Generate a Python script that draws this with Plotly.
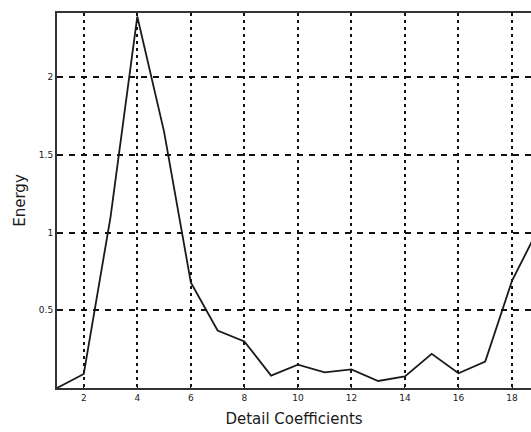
import plotly.graph_objects as go

coeff_index = list(range(1, 20))
energy = [0.0, 0.09, 1.1, 2.39, 1.65, 0.68, 0.37, 0.30, 0.08, 0.15, 0.10, 0.12,
          0.045, 0.075, 0.22, 0.095, 0.17, 0.69, 1.03]
x_ticks = [2, 4, 6, 8, 10, 12, 14, 16, 18]
y_ticks = [0.5, 1, 1.5, 2]
y_tick_text = ["0.5", "1", "1.5", "2"]

fig = go.Figure()
fig.add_trace(go.Scatter(x=coeff_index, y=energy, mode="lines",
                         line=dict(color="#1a1a1a", width=1.8),
                         showlegend=False))

fig.update_layout(
    width=531, height=432,
    margin=dict(l=57, r=0, t=13, b=44),
    paper_bgcolor="white", plot_bgcolor="white",
    font=dict(family="DejaVu Sans", color="#1a1a1a"),
    xaxis=dict(range=[1, 18.71], tickvals=x_ticks, ticks="inside", ticklen=4,
               tickcolor="#1a1a1a", tickfont=dict(size=9),
               showgrid=True, gridcolor="#111", gridwidth=2, griddash="3px,4px",
               showline=True, linecolor="#333", linewidth=2, mirror=True,
               zeroline=False,
               title=dict(text="Detail Coefficients", font=dict(size=15), standoff=12)),
    yaxis=dict(range=[0, 2.413], tickvals=y_ticks, ticktext=y_tick_text,
               ticks="inside", ticklen=4, tickcolor="#1a1a1a", tickfont=dict(size=9),
               showgrid=True, gridcolor="#111", gridwidth=2, griddash="6px,6px",
               showline=True, linecolor="#333", linewidth=2, mirror=False,
               zeroline=False,
               title=dict(text="Energy", font=dict(size=15), standoff=10)),
)

fig.write_html("out.html")
